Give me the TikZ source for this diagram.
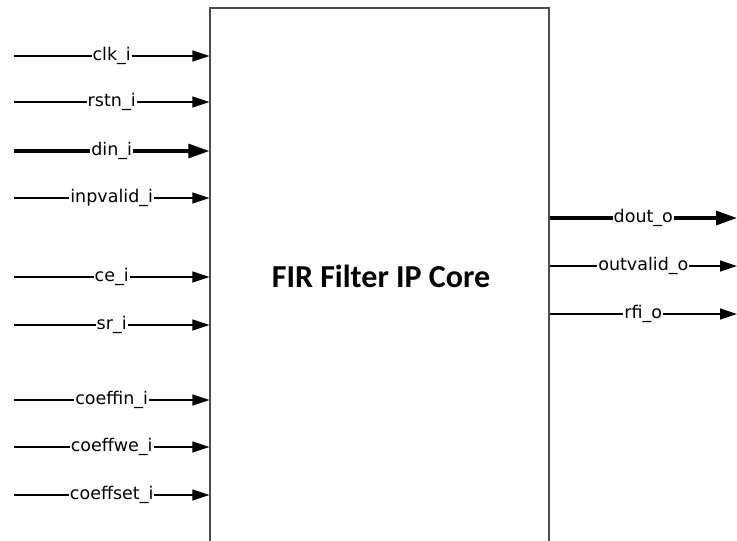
\documentclass[tikz,border=0pt]{standalone}
\usepackage{fontspec}
\setmainfont{Carlito}
\newfontfamily\portfont{DejaVu Sans}
\usetikzlibrary{arrows.meta, positioning}

\begin{document}
\begin{tikzpicture}[
    x=1pt, y=-1pt,
    port/.style={
        line width=1.3pt,
        -{Triangle[length=17pt,width=11pt]}
    },
    bus/.style={
        line width=3.2pt,
        -{Triangle[length=21pt,width=14pt]}
    },
    lab/.style={
        font=\portfont\fontsize{17.5}{20}\selectfont,
        fill=white,
        inner sep=1pt
    },
    corebox/.style={
        draw=black!70,
        line width=1.3pt,
        minimum width=339pt,
        minimum height=600pt,
        inner sep=0pt
    },
    title/.style={
        font=\bfseries\fontsize{32}{38}\selectfont
    }
]
\useasboundingbox (0,0) rectangle (737,541);
\clip (0,0) rectangle (737,541);

% =========================================================
% IP core block
% =========================================================
\node[corebox] (core) at (379.5,308) {};
\node[title] (name) at (381,276) {FIR Filter IP Core};

% =========================================================
% Input ports
% =========================================================
\coordinate (clk)   at (14, 56);
\coordinate (rstn)  at (14,102);
\coordinate (din)   at (14,151);
\coordinate (inpv)  at (14,198);
\coordinate (ce)    at (14,277);
\coordinate (sr)    at (14,325);
\coordinate (cin)   at (14,400);
\coordinate (cwe)   at (14,447);
\coordinate (cset)  at (14,495);

\draw[port] (clk)  -- node[lab] {clk\_i}      (clk  -| core.west);
\draw[port] (rstn) -- node[lab] {rstn\_i}     (rstn -| core.west);
\draw[bus]  (din)  -- node[lab] {din\_i}      (din  -| core.west);
\draw[port] (inpv) -- node[lab] {inpvalid\_i} (inpv -| core.west);
\draw[port] (ce)   -- node[lab] {ce\_i}       (ce   -| core.west);
\draw[port] (sr)   -- node[lab] {sr\_i}       (sr   -| core.west);
\draw[port] (cin)  -- node[lab] {coeffin\_i}  (cin  -| core.west);
\draw[port] (cwe)  -- node[lab] {coeffwe\_i}  (cwe  -| core.west);
\draw[port] (cset) -- node[lab] {coeffset\_i} (cset -| core.west);

% =========================================================
% Output ports
% =========================================================
\coordinate (dout) at (737,218);
\coordinate (outv) at (737,266);
\coordinate (rfi)  at (737,314);

\draw[bus]  (dout -| core.east) -- node[lab] {dout\_o}     (dout);
\draw[port] (outv -| core.east) -- node[lab] {outvalid\_o} (outv);
\draw[port] (rfi  -| core.east) -- node[lab] {rfi\_o}      (rfi);

\end{tikzpicture}
\end{document}
